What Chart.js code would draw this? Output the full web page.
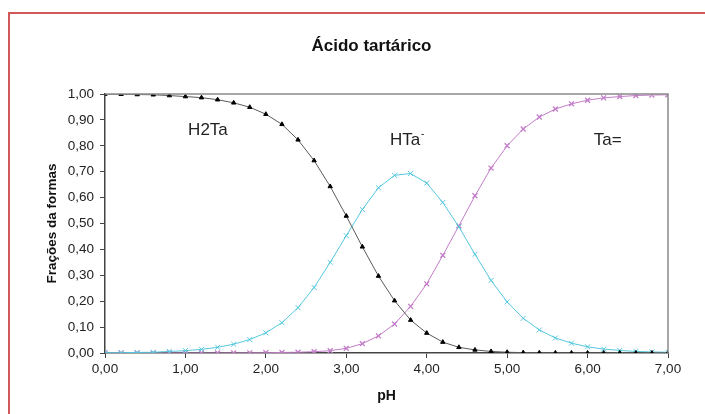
<!DOCTYPE html>
<html>
<head>
<meta charset="utf-8">
<script src="https://cdn.jsdelivr.net/npm/chart.js@4"></script>
<style>
  body { margin: 0; background: #fff; overflow: hidden; }
  #wrap { position: relative; width: 705px; height: 414px; }
  #frame { position: absolute; left: 8px; top: 12px; width: 800px; height: 500px;
           border-top: 2px solid #d05858; border-left: 2px solid #d05858; }
  canvas { position: absolute; left: 0; top: 0; }
</style>
</head>
<body>
<div id="wrap">
  <div id="frame"></div>
  <canvas id="myChart" width="705" height="414"></canvas>
</div>
<script>
var ctx = document.getElementById("myChart").getContext('2d');

const pH = [0.0,0.2,0.4,0.6,0.8,1.0,1.2,1.4,1.6,1.8,2.0,2.2,2.4,2.6,2.8,3.0,3.2,3.4,
            3.6,3.8,4.0,4.2,4.4,4.6,4.8,5.0,5.2,5.4,5.6,5.8,6.0,6.2,6.4,6.6,6.8,7.0];
const h2ta = [1.000,0.999,0.998,0.997,0.994,0.990,0.986,0.978,0.966,0.949,0.922,0.883,
              0.823,0.743,0.643,0.529,0.410,0.297,0.202,0.127,0.077,0.042,0.022,0.012,
              0.006,0.003,0.0015,0.0008,0.0004,0.0002,0.0001,0,0,0,0,0];
const hta = [0.001,0.001,0.002,0.003,0.006,0.009,0.014,0.022,0.034,0.052,0.078,0.117,
             0.175,0.253,0.350,0.453,0.554,0.638,0.686,0.693,0.656,0.581,0.487,0.381,
             0.280,0.197,0.134,0.089,0.058,0.038,0.024,0.015,0.010,0.006,0.004,0.003];
const ta = [0,0,0,0,0,0,0,0,0.0002,0.0005,0.001,0.002,0.003,0.005,0.009,0.018,0.036,0.066,
            0.112,0.180,0.267,0.377,0.491,0.607,0.714,0.800,0.865,0.911,0.942,0.962,0.976,
            0.985,0.990,0.994,0.996,0.997];

// text labels placed on the curves (pH, fraction)
const speciesLabels = [
  { text: 'H2Ta', sup: '', x: 1.28, y: 0.86 },
  { text: 'HTa', sup: '-', x: 3.73, y: 0.82 },
  { text: 'Ta=', sup: '', x: 6.25, y: 0.82 }
];
const chartTitle = 'Ácido tartárico';

function pts(ys) { return pH.map((x, i) => ({ x: x, y: ys[i] })); }
function comma(v) { return v.toFixed(2).replace('.', ','); }

const labelPlugin = {
  id: 'speciesLabels',
  afterDraw(chart) {
    const c = chart.ctx, xs = chart.scales.x, ys = chart.scales.y, a = chart.chartArea;
    c.save();
    // plot box: top and right edges
    c.strokeStyle = '#8a8a8a';
    c.lineWidth = 1.5;
    c.beginPath();
    c.moveTo(a.left, a.top);
    c.lineTo(a.right, a.top);
    c.lineTo(a.right, a.bottom);
    c.stroke();
    // title, a bit left of the plot centre like the original
    c.fillStyle = '#111';
    c.textBaseline = 'middle';
    c.textAlign = 'center';
    c.font = 'bold 17px "Liberation Sans", Arial, sans-serif';
    c.fillText(chartTitle, (a.left + a.right) / 2 - 15, 46);
    c.fillStyle = '#222';
    speciesLabels.forEach(l => {
      c.font = '17px "Liberation Sans", Arial, sans-serif';
      const px = xs.getPixelForValue(l.x), py = ys.getPixelForValue(l.y);
      c.fillText(l.text, px, py);
      if (l.sup) {
        const w = c.measureText(l.text).width;
        c.font = '10px "Liberation Sans", Arial, sans-serif';
        c.textAlign = 'left';
        c.fillText(l.sup, px + w / 2 + 1, py - 6);
        c.textAlign = 'center';
      }
    });
    c.restore();
  }
};

const data = {
  datasets: [{
    label: 'H2Ta',
    data: pts(h2ta),
    borderColor: '#5a5a5a',
    backgroundColor: '#000',
    pointBorderColor: '#000',
    pointStyle: 'triangle',
    pointRadius: 2.5,
    borderWidth: 1
  }, {
    label: 'HTa-',
    data: pts(hta),
    borderColor: '#55c8de',
    backgroundColor: '#55c8de',
    pointStyle: 'crossRot',
    pointRadius: 3.5,
    pointBorderWidth: 1,
    borderWidth: 1
  }, {
    label: 'Ta=',
    data: pts(ta),
    borderColor: '#c27cc8',
    backgroundColor: '#c27cc8',
    pointStyle: 'crossRot',
    pointRadius: 3.5,
    pointBorderWidth: 1.3,
    borderWidth: 1
  }]
};

const tickFont = { family: '"Liberation Sans", Arial, sans-serif', size: 13.5 };

const config = {
  type: 'line',
  data,
  options: {
    responsive: false,
    animation: false,
    tension: 0,
    layout: { padding: { left: 40, right: 37, top: 94, bottom: 5 } },
    plugins: {
      legend: { display: false },
      tooltip: { enabled: false },
      title: { display: false }
    },
    scales: {
      x: {
        type: 'linear',
        min: 0, max: 7,
        afterFit(scale) { scale.height = 56; },
        ticks: { stepSize: 1, color: '#222', font: tickFont, padding: 3, callback: v => comma(v) },
        grid: { display: true, drawOnChartArea: false, drawTicks: true, tickLength: 5, color: '#444' },
        border: { display: true, color: '#444', width: 1.5 },
        title: {
          display: true, text: 'pH', color: '#111',
          font: { family: '"Liberation Sans", Arial, sans-serif', size: 14, weight: 'bold' }
        }
      },
      y: {
        min: 0, max: 1,
        afterFit(scale) { scale.width = 65; },
        ticks: { stepSize: 0.1, color: '#222', font: tickFont, padding: 6, callback: v => comma(v) },
        grid: { display: true, drawOnChartArea: false, drawTicks: true, tickLength: 5, color: '#444' },
        border: { display: true, color: '#444', width: 1.5 },
        title: {
          display: true, text: 'Frações da formas', color: '#111',
          font: { family: '"Liberation Sans", Arial, sans-serif', size: 13.5, weight: 'bold' }
        }
      }
    }
  },
  plugins: [labelPlugin]
};

var myChart = new Chart(ctx, config);
</script>
</body>
</html>
